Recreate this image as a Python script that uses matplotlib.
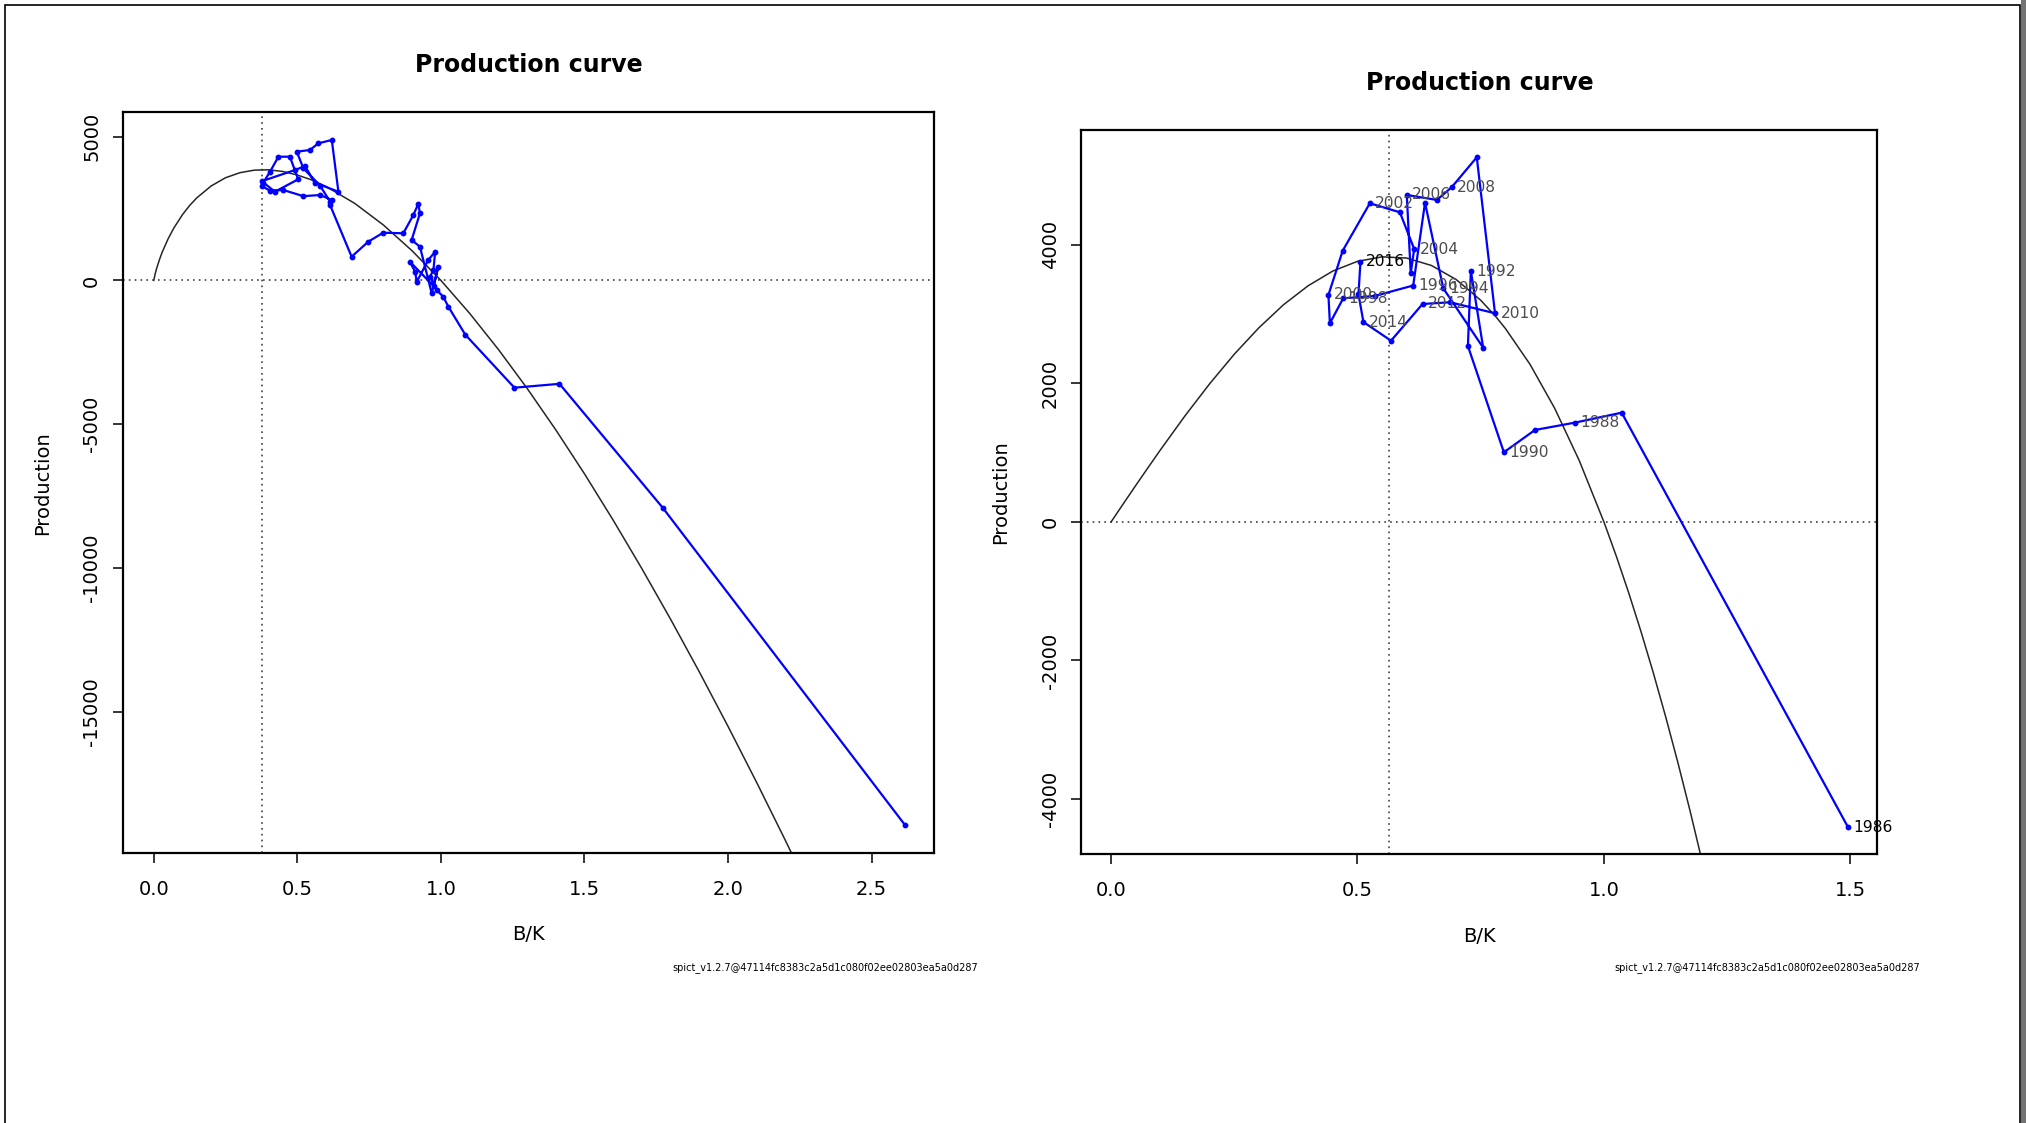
import matplotlib
matplotlib.use("Agg")
import matplotlib.pyplot as plt
from matplotlib.patches import Rectangle

# ---- left panel: biomass / K and production, one point per year ----
left_bk = [2.615, 1.773, 1.413, 1.256, 1.085, 1.026, 1.008, 0.985, 0.962, 0.974,
           0.980, 0.956, 0.916, 0.910, 0.892, 0.975, 0.990, 0.968, 0.927, 0.898,
           0.927, 0.921, 0.904, 0.869, 0.799, 0.747, 0.689, 0.614, 0.620, 0.579,
           0.521, 0.451, 0.405, 0.376, 0.381, 0.405, 0.434, 0.474, 0.503, 0.422,
           0.376, 0.492, 0.527, 0.560, 0.643, 0.620, 0.573, 0.544, 0.498, 0.521,
           0.579, 0.614]
left_prod = [-18925, -7913, -3597, -3732, -1889, -915, -567, -334, 129, 362,
             998, 710, -45, 303, 650, -200, 450, -450, 1172, 1405,
             2334, 2657, 2275, 1638, 1659, 1346, 824, 2622, 2800, 2970,
             2930, 3144, 3120, 3283, 3398, 3781, 4303, 4303, 3517, 3085,
             3450, 3840, 3979, 3400, 3085, 4883, 4768, 4536, 4477, 3899,
             3300, 2737]

# fitted production curve
left_curve_bk = [0.0, 0.005, 0.01, 0.02, 0.03, 0.05, 0.07, 0.1, 0.125, 0.15, 0.2,
                 0.25, 0.3, 0.35, 0.4, 0.45, 0.5, 0.55, 0.6, 0.7, 0.8, 0.9,
                 1.0, 1.1, 1.2, 1.3, 1.4, 1.5, 1.6, 1.7, 1.8, 1.9, 2.0, 2.1,
                 2.2, 2.3]
left_curve_prod = [0, 235, 419, 731, 998, 1449, 1824, 2288, 2607, 2873, 3286,
                   3571, 3746, 3835, 3847, 3788, 3666, 3494, 3268, 2678, 1925, 1027,
                   0, -1145, -2399, -3751, -5197, -6727, -8340, -10027, -11786,
                   -13617, -15512, -17468, -19484, -21555]
left_bmsy = 0.378

# ---- right panel ----
right_years = list(range(1986, 2017))
right_bk = [1.495, 1.036, 0.941, 0.860, 0.797, 0.724, 0.730, 0.755, 0.674, 0.637,
            0.613, 0.535, 0.471, 0.444, 0.441, 0.470, 0.525, 0.586, 0.615, 0.608,
            0.600, 0.661, 0.691, 0.742, 0.779, 0.688, 0.632, 0.568, 0.512, 0.502,
            0.506]
right_prod = [-4404, 1578, 1434, 1328, 1006, 2541, 3623, 2516, 3374, 4610,
              3414, 3263, 3229, 2869, 3277, 3917, 4601, 4471, 3941, 3590,
              4721, 4649, 4832, 5265, 3013, 3172, 3147, 2617, 2887, 3287,
              3758]

right_curve_bk = [0.0, 0.025, 0.05, 0.075, 0.1, 0.15, 0.2, 0.25, 0.3, 0.35, 0.4,
                  0.45, 0.5, 0.55, 0.6, 0.65, 0.7, 0.75, 0.78, 0.8, 0.85, 0.9,
                  0.95, 1.0, 1.025, 1.05, 1.075, 1.1, 1.125, 1.15, 1.175, 1.2]
right_curve_prod = [0, 264, 526, 784, 1039, 1532, 1995, 2422, 2804, 3137, 3411,
                    3623, 3763, 3828, 3810, 3703, 3501, 3201, 2970, 2794, 2276, 1642,
                    885, 0, -492, -1018, -1578, -2174, -2806, -3473, -4179, -4922]
right_bmsy = 0.564

VERSION = "spict_v1.2.7@47114fc8383c2a5d1c080f02ee02803ea5a0d287"


def style_axes(ax, xticks, yticks, xlim, ylim):
    """R base graphics look: heavy box, outward ticks, rotated y labels."""
    ax.set_xlim(*xlim)
    ax.set_ylim(*ylim)
    ax.set_xticks(xticks)
    ax.set_xticklabels([f"{t:.1f}" for t in xticks])
    ax.set_yticks(yticks)
    ax.set_yticklabels([f"{t}" for t in yticks], rotation=90, va="center")
    for s in ax.spines.values():
        s.set_linewidth(1.6)
    ax.tick_params(direction="out", length=7, width=1.1, labelsize=14)
    ax.tick_params(axis="x", pad=12.5)
    ax.tick_params(axis="y", pad=8.5)
    ax.set_xlabel("B/K", fontsize=14, labelpad=19)
    ax.set_ylabel("Production", fontsize=14, labelpad=22)
    ax.set_title("Production curve", fontsize=17, fontweight="bold", pad=29)


def draw_panel(ax, bk, prod, curve_bk, curve_prod, bmsy):
    ax.plot(curve_bk, curve_prod, color="0.15", linewidth=1.1, zorder=2)
    ax.axhline(0, color="0.25", linestyle=(0, (1, 2.5)), linewidth=1.2, zorder=1)
    ax.axvline(bmsy, color="0.25", linestyle=(0, (1, 2.5)), linewidth=1.2, zorder=1)
    ax.plot(bk, prod, color="blue", linewidth=1.6, marker="o", markersize=3.2, zorder=3)


fig = plt.figure(figsize=(20.26, 11.23), dpi=100)

ax1 = fig.add_axes([0.0606, 0.2405, 0.4005, 0.6594])
draw_panel(ax1, left_bk, left_prod, left_curve_bk, left_curve_prod, left_bmsy)
style_axes(ax1, [0.0, 0.5, 1.0, 1.5, 2.0, 2.5], [-15000, -10000, -5000, 0, 5000],
           (-0.108, 2.718), (-19913, 5843))

ax2 = fig.add_axes([0.5338, 0.2394, 0.3929, 0.6444])
draw_panel(ax2, right_bk, right_prod, right_curve_bk, right_curve_prod, right_bmsy)
style_axes(ax2, [0.0, 0.5, 1.0, 1.5], [-4000, -2000, 0, 2000, 4000],
           (-0.060, 1.555), (-4796, 5652))

# year labels every second year, to the right of the point
for yr, x, y in zip(right_years, right_bk, right_prod):
    if (yr - right_years[0]) % 2:
        continue
    col = "black" if yr in (right_years[0], right_years[-1]) else "0.3"
    ax2.annotate(str(yr), (x, y), xytext=(4, 0), textcoords="offset points",
                 fontsize=11.2, color=col, va="center", ha="left", zorder=4)

# version stamp under each panel
fig.text(978 / 2026, 1 - 968 / 1123, VERSION, fontsize=7, ha="right", va="center")
fig.text(1920 / 2026, 1 - 968 / 1123, VERSION, fontsize=7, ha="right", va="center")

# thin frame around the whole image, grey strip on the right
fig.add_artist(Rectangle((5 / 2026, -0.01), 2015 / 2026, 1 - 5 / 1123 + 0.01,
                         transform=fig.transFigure, fill=False,
                         edgecolor="black", linewidth=1.2))
fig.add_artist(Rectangle((2021 / 2026, 0), 5 / 2026, 1, transform=fig.transFigure,
                         color="0.45", linewidth=0))

fig.savefig("out.png", dpi=100)
